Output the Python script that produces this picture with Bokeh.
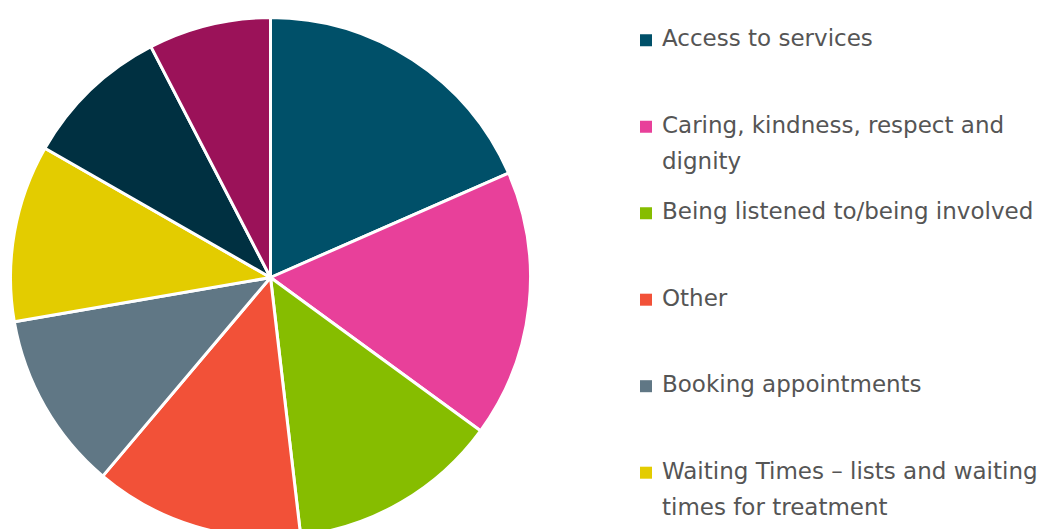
import math
import textwrap
from bokeh.plotting import figure
from bokeh.models import Range1d, ColumnDataSource
from bokeh.core.properties import value
from bokeh.embed import file_html
from bokeh.resources import INLINE

# ---- data ----
categories = [
    "Access to services",
    "Caring, kindness, respect and dignity",
    "Being listened to/being involved",
    "Other",
    "Booking appointments",
    "Waiting Times – lists and waiting times for treatment",
    "Communication",
    "Environment",
]
shares = [18.4, 16.6, 13.1, 13.0, 11.1, 11.0, 9.1, 7.6]
colors = ["#005069", "#E8409A", "#86BD00", "#F25138",
          "#607785", "#E3CC00", "#003041", "#9B1259"]

# ---- layout constants (pixels) ----
W, H = 1046, 529
CX, CY, R = 270, 252, 260
LEG_SQ_X, LEG_TXT_X = 645.5, 661.5
LEG_SQ_Y = 489.3
LEG_TXT_BASE = 491.5
LEG_STEP = 86.5
LINE_H = 36.5
FONT = "DejaVu Sans"
FONT_SIZE = "23px"
TEXT_COLOR = "#555555"

total = sum(shares)
starts, ends = [], []
acc = 0.0
for s in shares:
    starts.append(math.pi / 2 - acc / total * 2 * math.pi)
    acc += s
    ends.append(math.pi / 2 - acc / total * 2 * math.pi)

src = ColumnDataSource(dict(cat=categories, share=shares, color=colors,
                            start=starts, end=ends))

p = figure(width=W, height=H, x_range=Range1d(0, W), y_range=Range1d(0, H),
           output_backend="svg", toolbar_location=None, min_border=0)
p.axis.visible = False
p.grid.visible = False
p.outline_line_color = None
p.background_fill_color = "white"

p.wedge(x=CX, y=CY, radius=R, start_angle="start", end_angle="end",
        direction="clock", fill_color="color", line_color="white",
        line_width=3, source=src)

# ---- legend (manual, with wrapped labels; only items that fit) ----
sq_x, sq_y, sq_c = [], [], []
tx, ty, tt = [], [], []
for i, (cat, col) in enumerate(zip(categories, colors)):
    base = LEG_TXT_BASE - i * LEG_STEP
    lines = textwrap.wrap(cat, 33)
    if base - (len(lines) - 1) * LINE_H < 16:
        continue
    sq_x.append(LEG_SQ_X)
    sq_y.append(LEG_SQ_Y - i * LEG_STEP)
    sq_c.append(col)
    for j, line in enumerate(lines):
        tx.append(LEG_TXT_X)
        ty.append(base - j * LINE_H)
        tt.append(line)

p.rect(x=sq_x, y=sq_y, width=12, height=12, fill_color=sq_c, line_color=None)
p.text(x=tx, y=ty, text=tt, text_font=value(FONT), text_font_size=FONT_SIZE,
       text_color=TEXT_COLOR, text_baseline="alphabetic", text_align="left")

open("out.html", "w").write(file_html(p, INLINE))
